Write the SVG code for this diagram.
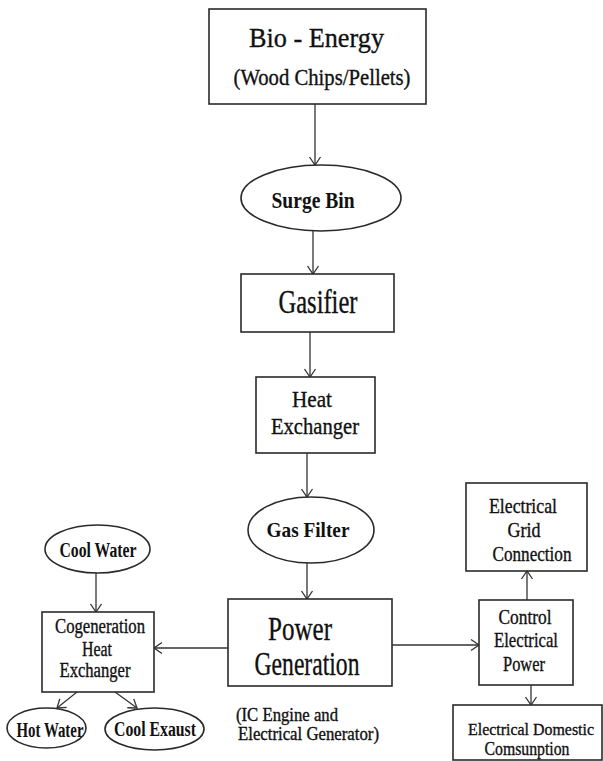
<svg xmlns="http://www.w3.org/2000/svg" width="603" height="761" viewBox="0 0 603 761">
<style>
.box{fill:#fff;stroke:#2a2a2a;stroke-width:1.6}
.conn line{stroke:#333;stroke-width:1.3;fill:none;marker-end:url(#arr)}
text{font-family:"Liberation Serif","Times New Roman",serif;fill:#111;stroke:#111;stroke-width:0.35;text-anchor:middle}
.b{font-weight:bold;stroke-width:0}
.s{text-anchor:start}
</style>
<defs>
<marker id="arr" markerUnits="userSpaceOnUse" markerWidth="12" markerHeight="14" refX="9" refY="7" orient="auto">
<path d="M1,1.5 L9,7 L1,12.5" fill="none" stroke="#333" stroke-width="1.3"/>
</marker>
</defs>
<rect width="603" height="761" fill="#fff"/>
<g class="conn" id="connectors">
<line x1="315" y1="104" x2="315" y2="165"/>
<line x1="313" y1="231" x2="313" y2="274"/>
<line x1="310" y1="332" x2="310" y2="377"/>
<line x1="307" y1="453" x2="307" y2="497"/>
<line x1="307" y1="563" x2="307" y2="599"/>
<line x1="392" y1="645" x2="479" y2="645"/>
<line x1="527" y1="600" x2="527" y2="571"/>
<line x1="531" y1="685" x2="531" y2="705"/>
<line x1="228" y1="648" x2="154" y2="648"/>
<line x1="96" y1="573" x2="96" y2="612"/>
<line x1="77" y1="692" x2="57" y2="708"/>
<line x1="115" y1="692" x2="137" y2="708"/>
</g>
<g id="bio">
<rect class="box" x="209" y="9" width="217" height="95"/>
<text x="316.5" y="47" font-size="28" textLength="135" lengthAdjust="spacingAndGlyphs">Bio - Energy</text>
<text x="322" y="85" font-size="23" textLength="177" lengthAdjust="spacingAndGlyphs">(Wood Chips/Pellets)</text>
</g>
<g id="surge">
<ellipse class="box" cx="321" cy="198" rx="80" ry="33"/>
<text class="b" x="313" y="208" font-size="23" textLength="83" lengthAdjust="spacingAndGlyphs">Surge Bin</text>
</g>
<g id="gasifier">
<rect class="box" x="241" y="274" width="153" height="58"/>
<text x="318" y="313" font-size="33" textLength="79" lengthAdjust="spacingAndGlyphs">Gasifier</text>
</g>
<g id="heatex">
<rect class="box" x="256" y="377" width="119" height="76"/>
<text x="312" y="407" font-size="23" textLength="40" lengthAdjust="spacingAndGlyphs">Heat</text>
<text x="315" y="434" font-size="23" textLength="88" lengthAdjust="spacingAndGlyphs">Exchanger</text>
</g>
<g id="gasfilter">
<ellipse class="box" cx="311" cy="530" rx="63" ry="33"/>
<text class="b" x="308" y="537" font-size="22" textLength="83" lengthAdjust="spacingAndGlyphs">Gas Filter</text>
</g>
<g id="power">
<rect class="box" x="228" y="599" width="164" height="87"/>
<text x="300" y="640" font-size="34" textLength="64" lengthAdjust="spacingAndGlyphs">Power</text>
<text x="307" y="675" font-size="34" textLength="105" lengthAdjust="spacingAndGlyphs">Generation</text>
</g>
<g id="power-note">
<text class="s" x="236" y="721" font-size="18" textLength="102" lengthAdjust="spacingAndGlyphs">(IC Engine and</text>
<text class="s" x="238" y="740" font-size="18" textLength="141" lengthAdjust="spacingAndGlyphs">Electrical Generator)</text>
</g>
<g id="grid">
<rect class="box" x="466" y="483" width="121" height="88"/>
<text x="523" y="513" font-size="21" textLength="68" lengthAdjust="spacingAndGlyphs">Electrical</text>
<text x="524" y="537" font-size="21" textLength="33" lengthAdjust="spacingAndGlyphs">Grid</text>
<text x="532" y="561" font-size="21" textLength="79" lengthAdjust="spacingAndGlyphs">Connection</text>
</g>
<g id="control">
<rect class="box" x="479" y="600" width="94" height="85"/>
<text x="525" y="624" font-size="21" textLength="53" lengthAdjust="spacingAndGlyphs">Control</text>
<text x="526" y="647" font-size="21" textLength="64" lengthAdjust="spacingAndGlyphs">Electrical</text>
<text x="524" y="671" font-size="21" textLength="42" lengthAdjust="spacingAndGlyphs">Power</text>
</g>
<g id="domestic">
<rect class="box" x="453" y="705" width="149" height="55"/>
<text x="531" y="735" font-size="17" textLength="126" lengthAdjust="spacingAndGlyphs">Electrical Domestic</text>
<text x="527" y="755" font-size="19" textLength="85" lengthAdjust="spacingAndGlyphs">Comsunption</text>
</g>
<g id="coolwater">
<ellipse class="box" cx="97.5" cy="549" rx="52.5" ry="24"/>
<text class="b" x="98" y="557" font-size="20" textLength="77" lengthAdjust="spacingAndGlyphs">Cool Water</text>
</g>
<g id="cogen">
<rect class="box" x="42" y="612" width="112" height="80"/>
<text x="100" y="633" font-size="20" textLength="90" lengthAdjust="spacingAndGlyphs">Cogeneration</text>
<text x="97" y="656" font-size="20" textLength="30" lengthAdjust="spacingAndGlyphs">Heat</text>
<text x="95" y="677" font-size="20" textLength="71" lengthAdjust="spacingAndGlyphs">Exchanger</text>
</g>
<g id="hotwater">
<ellipse class="box" cx="46.5" cy="728" rx="39.5" ry="20"/>
<text class="b" x="50" y="737" font-size="20" textLength="67" lengthAdjust="spacingAndGlyphs">Hot Water</text>
</g>
<g id="coolexaust">
<ellipse class="box" cx="154.5" cy="729" rx="49.5" ry="21"/>
<text class="b" x="155" y="736" font-size="20" textLength="82" lengthAdjust="spacingAndGlyphs">Cool Exaust</text>
</g>
</svg>
